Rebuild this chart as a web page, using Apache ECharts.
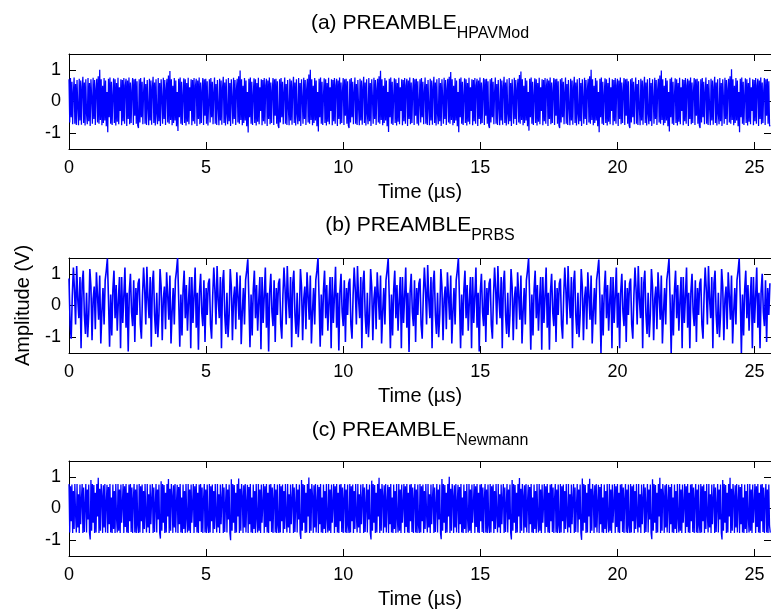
<!DOCTYPE html>
<html><head><meta charset="utf-8">
<script src="https://cdn.jsdelivr.net/npm/echarts@6/dist/echarts.min.js"></script>
<style>html,body{margin:0;padding:0;background:#fff}#c{width:771px;height:614px}</style>
</head><body><div id="c"></div>
<script>
// ---- data ----
const durationUs = 25.6;
const timeTicks = [0, 5, 10, 15, 20, 25];
const ampTicks = [-1, 0, 1];
const panelTitles = [['(a) PREAMBLE', 'HPAVMod'], ['(b) PREAMBLE', 'PRBS'], ['(c) PREAMBLE', 'Newmann']];
const xAxisLabel = 'Time (µs)';
const yAxisLabel = 'Amplitude (V)';

// (a) HPAVMod preamble amplitude samples (V), one line per 2.56 µs symbol
const ampA = [
.7,-.66,.74,-.5,.62,-.72,.3,.76,-.7,.55,-.74,.68,-.2,-.75,.72,-.6,.66,-.73,.45,.78,-.68,.6,-.76,.7,-.4,-.72,.74,-.62,.58,-.77,.7,.1,-.7,.75,-.55,.68,-.74,.4,.72,-.66,.8,-.7,1.0,-.58,.7,-.75,.5,-.68,.74,-.6,.66,-.78,.3,-.97,.72,-.5,.76,-.7,.62,-.74,.2,.73,-.68,.7,-.76,.58,-.64,.75,-.72,.45,-.3,.7,-.75,.68,-.62,.74,-.7,.5,.72,-.77,.66,-.55,.76,-.72,.6,-.68,.35,.74,-.74,.7,-.45,.72,-.7,.64,-.76,-.84,
.7,-.66,.74,-.5,.62,-.72,.3,.76,-.7,.55,-.74,.68,-.2,-.75,.72,-.6,.66,-.73,.45,.78,-.68,.6,-.76,.7,-.4,-.72,.74,-.62,.58,-.77,.7,.1,-.7,.75,-.55,.68,-.74,.4,.72,-.66,.82,-.7,.96,-.58,.7,-.75,.5,-.68,.74,-.6,.66,-.78,.3,-.93,.72,-.5,.76,-.7,.62,-.74,.2,.73,-.68,.7,-.76,.58,-.64,.75,-.72,.45,-.3,.7,-.75,.68,-.62,.74,-.7,.5,.72,-.77,.66,-.55,.76,-.72,.6,-.68,.35,.74,-.74,.7,-.45,.72,-.7,.64,-.76,-.82,
.7,-.66,.74,-.5,.62,-.72,.3,.76,-.7,.55,-.74,.68,-.2,-.75,.72,-.6,.66,-.73,.45,.78,-.68,.6,-.76,.7,-.4,-.72,.74,-.62,.58,-.77,.7,.1,-.7,.75,-.55,.68,-.74,.4,.72,-.66,.8,-.7,.98,-.58,.7,-.75,.5,-.68,.74,-.6,.66,-.78,.3,-.98,.72,-.5,.76,-.7,.62,-.74,.2,.73,-.68,.7,-.76,.58,-.64,.75,-.72,.45,-.3,.7,-.75,.68,-.62,.74,-.7,.5,.72,-.77,.66,-.55,.76,-.72,.6,-.68,.35,.74,-.74,.7,-.45,.72,-.7,.64,-.76,-.84,
.7,-.66,.74,-.5,.62,-.72,.3,.76,-.7,.55,-.74,.68,-.2,-.75,.72,-.6,.66,-.73,.45,.78,-.68,.6,-.76,.7,-.4,-.72,.74,-.62,.58,-.77,.7,.1,-.7,.75,-.55,.68,-.74,.4,.72,-.66,.85,-.7,1.0,-.58,.7,-.75,.5,-.68,.74,-.6,.66,-.78,.3,-.95,.72,-.5,.76,-.7,.62,-.74,.2,.73,-.68,.7,-.76,.58,-.64,.75,-.72,.45,-.3,.7,-.75,.68,-.62,.74,-.7,.5,.72,-.77,.66,-.55,.76,-.72,.6,-.68,.35,.74,-.74,.7,-.45,.72,-.7,.64,-.76,-.84,
.7,-.66,.74,-.5,.62,-.72,.3,.76,-.7,.55,-.74,.68,-.2,-.75,.72,-.6,.66,-.73,.45,.78,-.68,.6,-.76,.7,-.4,-.72,.74,-.62,.58,-.77,.7,.1,-.7,.75,-.55,.68,-.74,.4,.72,-.66,.8,-.7,.97,-.58,.7,-.75,.5,-.68,.74,-.6,.66,-.78,.3,-.96,.72,-.5,.76,-.7,.62,-.74,.2,.73,-.68,.7,-.76,.58,-.64,.75,-.72,.45,-.3,.7,-.75,.68,-.62,.74,-.7,.5,.72,-.77,.66,-.55,.76,-.72,.6,-.68,.35,.74,-.74,.7,-.45,.72,-.7,.64,-.76,-.82,
.7,-.66,.74,-.5,.62,-.72,.3,.76,-.7,.55,-.74,.68,-.2,-.75,.72,-.6,.66,-.73,.45,.78,-.68,.6,-.76,.7,-.4,-.72,.74,-.62,.58,-.77,.7,.1,-.7,.75,-.55,.68,-.74,.4,.72,-.66,.78,-.7,.93,-.58,.7,-.75,.5,-.68,.74,-.6,.66,-.78,.3,-.97,.72,-.5,.76,-.7,.62,-.74,.2,.73,-.68,.7,-.76,.58,-.64,.75,-.72,.45,-.3,.7,-.75,.68,-.62,.74,-.7,.5,.72,-.77,.66,-.55,.76,-.72,.6,-.68,.35,.74,-.74,.7,-.45,.72,-.7,.64,-.76,-.84,
.7,-.66,.74,-.5,.62,-.72,.3,.76,-.7,.55,-.74,.68,-.2,-.75,.72,-.6,.66,-.73,.45,.78,-.68,.6,-.76,.7,-.4,-.72,.74,-.62,.58,-.77,.7,.1,-.7,.75,-.55,.68,-.74,.4,.72,-.66,.84,-.7,.95,-.58,.7,-.75,.5,-.68,.74,-.6,.66,-.78,.3,-.92,.72,-.5,.76,-.7,.62,-.74,.2,.73,-.68,.7,-.76,.58,-.64,.75,-.72,.45,-.3,.7,-.75,.68,-.62,.74,-.7,.5,.72,-.77,.66,-.55,.76,-.72,.6,-.68,.35,.74,-.74,.7,-.45,.72,-.7,.64,-.76,-.84,
.7,-.66,.74,-.5,.62,-.72,.3,.76,-.7,.55,-.74,.68,-.2,-.75,.72,-.6,.66,-.73,.45,.78,-.68,.6,-.76,.7,-.4,-.72,.74,-.62,.58,-.77,.7,.1,-.7,.75,-.55,.68,-.74,.4,.72,-.66,.8,-.7,1.0,-.58,.7,-.75,.5,-.68,.74,-.6,.66,-.78,.3,-.97,.72,-.5,.76,-.7,.62,-.74,.2,.73,-.68,.7,-.76,.58,-.64,.75,-.72,.45,-.3,.7,-.75,.68,-.62,.74,-.7,.5,.72,-.77,.66,-.55,.76,-.72,.6,-.68,.35,.74,-.74,.7,-.45,.72,-.7,.64,-.76,-.84,
.7,-.66,.74,-.5,.62,-.72,.3,.76,-.7,.55,-.74,.68,-.2,-.75,.72,-.6,.66,-.73,.45,.78,-.68,.6,-.76,.7,-.4,-.72,.74,-.62,.58,-.77,.7,.1,-.7,.75,-.55,.68,-.74,.4,.72,-.66,.82,-.7,.98,-.58,.7,-.75,.5,-.68,.74,-.6,.66,-.78,.3,-.95,.72,-.5,.76,-.7,.62,-.74,.2,.73,-.68,.7,-.76,.58,-.64,.75,-.72,.45,-.3,.7,-.75,.68,-.62,.74,-.7,.5,.72,-.77,.66,-.55,.76,-.72,.6,-.68,.35,.74,-.74,.7,-.45,.72,-.7,.64,-.76,-.84,
.7,-.66,.74,-.5,.62,-.72,.3,.76,-.7,.55,-.74,.68,-.2,-.75,.72,-.6,.66,-.73,.45,.78,-.68,.6,-.76,.7,-.4,-.72,.74,-.62,.58,-.77,.7,.1,-.7,.75,-.55,.68,-.74,.4,.72,-.66,.8,-.7,1.02,-.58,.7,-.75,.5,-.68,.74,-.6,.66,-.78,.3,-.97,.72,-.5,.76,-.7,.62,-.74,.2,.73,-.68,.7,-.76,.58,-.64,.75,-.72,.45,-.3,.7,-.75,.68,-.62,.74,-.7,.5,.72,-.77,.66,-.55,.76,-.72,.6,-.68,.35,.74,-.74,.7,-.45,.72,-.7,.64,-.76,-.78
];

// (b) PRBS preamble amplitude samples (V), one line per 2.56 µs symbol
const ampB = [
.85,-.6,-1.05,.3,1.2,.5,-.6,1.25,.2,-.4,.9,-1.35,.7,1.1,-.3,-.9,.4,-1.0,-.3,1.15,.6,-1.1,.2,.6,-.75,1.05,.3,-.45,.95,-1.2,-.2,.55,-.6,.8,1.1,1.48,.2,-1.3,.35,-.95,.5,1.1,-.4,.65,-.8,.15,.9,-1.35,.9,-.55,.3,1.2,-.7,.4,-1.45,.45,1.0,-.2,-.65,.8,-1.15,.55,-.3,.7,
.85,-.6,-1.05,.3,1.2,.5,-.6,1.22,.2,-.4,.9,-1.3,.7,1.1,-.3,-.9,.4,-1.0,-.3,1.15,.6,-1.1,.2,.6,-.75,1.05,.3,-.45,.95,-1.2,-.2,.55,-.6,.8,1.1,1.5,.2,-1.3,.35,-.95,.5,1.1,-.4,.65,-.8,.15,.9,-1.35,.9,-.55,.3,1.2,-.7,.4,-1.4,.45,1.0,-.2,-.65,.8,-1.15,.55,-.3,.7,
.85,-.6,-1.05,.3,1.2,.5,-.6,1.25,.2,-.4,.9,-1.35,.7,1.12,-.3,-.9,.4,-1.0,-.3,1.15,.6,-1.1,.2,.6,-.75,1.05,.3,-.45,.95,-1.22,-.2,.55,-.6,.8,1.1,1.46,.2,-1.32,.35,-.95,.5,1.1,-.4,.65,-.8,.15,.9,-1.38,.9,-.55,.3,1.2,-.7,.4,-1.45,.45,1.0,-.2,-.65,.8,-1.15,.55,-.3,.7,
.85,-.6,-1.05,.3,1.2,.5,-.6,1.25,.2,-.4,.9,-1.32,.7,1.1,-.3,-.9,.4,-1.0,-.3,1.15,.6,-1.1,.2,.6,-.75,1.05,.3,-.45,.95,-1.2,-.2,.55,-.6,.8,1.1,1.5,.2,-1.3,.35,-.95,.5,1.1,-.4,.65,-.8,.15,.9,-1.35,.9,-.55,.3,1.22,-.7,.4,-1.42,.45,1.0,-.2,-.65,.8,-1.15,.55,-.3,.7,
.85,-.6,-1.05,.3,1.2,.5,-.6,1.25,.2,-.4,.9,-1.35,.7,1.1,-.3,-.9,.4,-1.0,-.3,1.15,.6,-1.1,.2,.6,-.75,1.05,.3,-.45,.95,-1.2,-.2,.55,-.6,.8,1.1,1.48,.2,-1.35,.35,-.95,.5,1.1,-.4,.65,-.8,.15,.9,-1.35,.9,-.55,.3,1.2,-.7,.4,-1.47,.45,1.0,-.2,-.65,.8,-1.15,.55,-.3,.7,
.85,-.6,-1.05,.3,1.2,.5,-.6,1.28,.2,-.4,.9,-1.35,.7,1.1,-.3,-.9,.4,-1.0,-.3,1.15,.6,-1.1,.2,.6,-.75,1.05,.3,-.45,.95,-1.2,-.2,.55,-.6,.8,1.1,1.5,.2,-1.35,.35,-.95,.5,1.1,-.4,.65,-.8,.15,.9,-1.35,.9,-.55,.3,1.2,-.7,.4,-1.45,.45,1.0,-.2,-.65,.8,-1.15,.55,-.3,.7,
.85,-.6,-1.05,.3,1.2,.5,-.6,1.25,.2,-.4,.9,-1.35,.7,1.1,-.3,-.9,.4,-1.0,-.3,1.15,.6,-1.1,.2,.6,-.75,1.05,.3,-.45,.95,-1.2,-.2,.55,-.6,.8,1.1,1.49,.2,-1.4,.35,-.95,.5,1.1,-.4,.65,-.8,.15,.9,-1.4,.9,-.55,.3,1.2,-.7,.4,-1.4,.45,1.0,-.2,-.65,.8,-1.15,.55,-.3,.7,
.85,-.6,-1.05,.3,1.2,.5,-.6,1.25,.2,-.4,.9,-1.35,.7,1.1,-.3,-.9,.4,-1.0,-.3,1.15,.6,-1.1,.2,.6,-.75,1.05,.3,-.45,.95,-1.2,-.2,.55,-.6,.8,1.1,1.45,.2,-1.5,.35,-.95,.5,1.1,-.4,.65,-.8,.15,.9,-1.35,.9,-.55,.3,1.2,-.7,.4,-1.35,.45,1.0,-.2,-.65,.8,-1.15,.55,-.3,.7,
.85,-.6,-1.05,.3,1.2,.5,-.6,1.25,.2,-.4,.9,-1.35,.7,1.1,-.3,-.9,.4,-1.0,-.3,1.15,.6,-1.1,.2,.6,-.75,1.05,.3,-.45,.95,-1.2,-.2,.55,-.6,.8,1.1,1.47,.2,-1.5,.35,-.95,.5,1.1,-.4,.65,-.8,.15,.9,-1.35,.9,-.55,.3,1.2,-.7,.4,-1.35,.45,1.0,-.2,-.65,.8,-1.15,.55,-.3,.7,
.85,-.6,-1.05,.3,1.2,.5,-.6,1.25,.2,-.4,.9,-1.35,.7,1.1,-.3,-.9,.4,-1.0,-.3,1.15,.6,-1.1,.2,.6,-.75,1.05,.3,-.45,.95,-1.2,-.2,.55,-.6,.8,1.1,1.48,.2,-1.5,.35,-.95,.5,1.1,-.4,.65,-.8,.15,.9,-1.35,.9,-.55,.3,1.2,-.7,.4,-1.35,.45,1.0,-.2,-.65,.8,-1.15,.55,-.3,.7
];

// (c) Newmann preamble amplitude samples (V), one line per 2.56 µs symbol
const ampC = [
.77,-.76,.7,-.4,.76,-.77,.55,-.65,.77,-.2,-.76,.77,-.6,.45,-.77,.76,-.5,.3,.77,-.77,.66,-.74,.1,.77,-.76,.6,-.35,.76,-.77,-.98,.9,-.7,.77,-.45,.74,-.77,.5,-.76,.77,-.25,.97,-.77,.62,-.7,.77,.4,-.77,.73,-.6,.77,-.76,.2,.75,-.77,.68,-.5,.77,-.76,.35,-.77,.76,-.65,.55,-.77,.77,-.3,-.76,.77,-.7,.6,-.77,.76,-.45,.15,.77,-.77,.7,-.58,.77,-.76,.5,-.77,.76,-.4,.77,-.74,.66,-.77,.3,.77,-.76,.6,-.77,.76,-.55,-.77,
.77,-.76,.7,-.4,.76,-.77,.55,-.65,.77,-.2,-.76,.77,-.6,.45,-.77,.76,-.5,.3,.77,-.77,.66,-.74,.1,.77,-.76,.6,-.35,.76,-.77,-.95,.86,-.7,.77,-.45,.74,-.77,.5,-.76,.77,-.25,.93,-.77,.62,-.7,.77,.4,-.77,.73,-.6,.77,-.76,.2,.75,-.77,.68,-.5,.77,-.76,.35,-.77,.76,-.65,.55,-.77,.77,-.3,-.76,.77,-.7,.6,-.77,.76,-.45,.15,.77,-.77,.7,-.58,.77,-.76,.5,-.77,.76,-.4,.77,-.74,.66,-.77,.3,.77,-.76,.6,-.77,.76,-.55,-.77,
.77,-.76,.7,-.4,.76,-.77,.55,-.65,.77,-.2,-.76,.77,-.6,.45,-.77,.76,-.5,.3,.77,-.77,.66,-.74,.1,.77,-.76,.6,-.35,.76,-.77,-1.0,.92,-.7,.77,-.45,.74,-.77,.5,-.76,.77,-.25,.95,-.77,.62,-.7,.77,.4,-.77,.73,-.6,.77,-.76,.2,.75,-.77,.68,-.5,.77,-.76,.35,-.77,.76,-.65,.55,-.77,.77,-.3,-.76,.77,-.7,.6,-.77,.76,-.45,.15,.77,-.77,.7,-.58,.77,-.76,.5,-.77,.76,-.4,.77,-.74,.66,-.77,.3,.77,-.76,.6,-.77,.76,-.55,-.77,
.77,-.76,.7,-.4,.76,-.77,.55,-.65,.77,-.2,-.76,.77,-.6,.45,-.77,.76,-.5,.3,.77,-.77,.66,-.74,.1,.77,-.76,.6,-.35,.76,-.77,-.96,.9,-.7,.77,-.45,.74,-.77,.5,-.76,.77,-.25,.98,-.77,.62,-.7,.77,.4,-.77,.73,-.6,.77,-.76,.2,.75,-.77,.68,-.5,.77,-.76,.35,-.77,.76,-.65,.55,-.77,.77,-.3,-.76,.77,-.7,.6,-.77,.76,-.45,.15,.77,-.77,.7,-.58,.77,-.76,.5,-.77,.76,-.4,.77,-.74,.66,-.77,.3,.77,-.76,.6,-.77,.76,-.55,-.77,
.77,-.76,.7,-.4,.76,-.77,.55,-.65,.77,-.2,-.76,.77,-.6,.45,-.77,.76,-.5,.3,.77,-.77,.66,-.74,.1,.77,-.76,.6,-.35,.76,-.77,-.98,.88,-.7,.77,-.45,.74,-.77,.5,-.76,.77,-.25,.97,-.77,.62,-.7,.77,.4,-.77,.73,-.6,.77,-.76,.2,.75,-.77,.68,-.5,.77,-.76,.35,-.77,.76,-.65,.55,-.77,.77,-.3,-.76,.77,-.7,.6,-.77,.76,-.45,.15,.77,-.77,.7,-.58,.77,-.76,.5,-.77,.76,-.4,.77,-.74,.66,-.77,.3,.77,-.76,.6,-.77,.76,-.55,-.77,
.77,-.76,.7,-.4,.76,-.77,.55,-.65,.77,-.2,-.76,.77,-.6,.45,-.77,.76,-.5,.3,.77,-.77,.66,-.74,.1,.77,-.76,.6,-.35,.76,-.77,-.97,.93,-.7,.77,-.45,.74,-.77,.5,-.76,.77,-.25,1.0,-.77,.62,-.7,.77,.4,-.77,.73,-.6,.77,-.76,.2,.75,-.77,.68,-.5,.77,-.76,.35,-.77,.76,-.65,.55,-.77,.77,-.3,-.76,.77,-.7,.6,-.77,.76,-.45,.15,.77,-.77,.7,-.58,.77,-.76,.5,-.77,.76,-.4,.77,-.74,.66,-.77,.3,.77,-.76,.6,-.77,.76,-.55,-.77,
.77,-.76,.7,-.4,.76,-.77,.55,-.65,.77,-.2,-.76,.77,-.6,.45,-.77,.76,-.5,.3,.77,-.77,.66,-.74,.1,.77,-.76,.6,-.35,.76,-.77,-.98,.9,-.7,.77,-.45,.74,-.77,.5,-.76,.77,-.25,.96,-.77,.62,-.7,.77,.4,-.77,.73,-.6,.77,-.76,.2,.75,-.77,.68,-.5,.77,-.76,.35,-.77,.76,-.65,.55,-.77,.77,-.3,-.76,.77,-.7,.6,-.77,.76,-.45,.15,.77,-.77,.7,-.58,.77,-.76,.5,-.77,.76,-.4,.77,-.74,.66,-.77,.3,.77,-.76,.6,-.77,.76,-.55,-.77,
.77,-.76,.7,-.4,.76,-.77,.55,-.65,.77,-.2,-.76,.77,-.6,.45,-.77,.76,-.5,.3,.77,-.77,.66,-.74,.1,.77,-.76,.6,-.35,.76,-.77,-.99,.95,-.7,.77,-.45,.74,-.77,.5,-.76,.77,-.25,.94,-.77,.62,-.7,.77,.4,-.77,.73,-.6,.77,-.76,.2,.75,-.77,.68,-.5,.77,-.76,.35,-.77,.76,-.65,.55,-.77,.77,-.3,-.76,.77,-.7,.6,-.77,.76,-.45,.15,.77,-.77,.7,-.58,.77,-.76,.5,-.77,.76,-.4,.77,-.74,.66,-.77,.3,.77,-.76,.6,-.77,.76,-.55,-.77,
.77,-.76,.7,-.4,.76,-.77,.55,-.65,.77,-.2,-.76,.77,-.6,.45,-.77,.76,-.5,.3,.77,-.77,.66,-.74,.1,.77,-.76,.6,-.35,.76,-.77,-.97,.92,-.7,.77,-.45,.74,-.77,.5,-.76,.77,-.25,.97,-.77,.62,-.7,.77,.4,-.77,.73,-.6,.77,-.76,.2,.75,-.77,.68,-.5,.77,-.76,.35,-.77,.76,-.65,.55,-.77,.77,-.3,-.76,.77,-.7,.6,-.77,.76,-.45,.15,.77,-.77,.7,-.58,.77,-.76,.5,-.77,.76,-.4,.77,-.74,.66,-.77,.3,.77,-.76,.6,-.77,.76,-.55,-.77,
.77,-.76,.7,-.4,.76,-.77,.55,-.65,.77,-.2,-.76,.77,-.6,.45,-.77,.76,-.5,.3,.77,-.77,.66,-.74,.1,.77,-.76,.6,-.35,.76,-.77,-.98,.9,-.7,.77,-.45,.74,-.77,.5,-.76,.77,-.25,.97,-.77,.62,-.7,.77,.4,-.77,.73,-.6,.77,-.76,.2,.75,-.77,.68,-.5,.77,-.76,.35,-.77,.76,-.65,.55,-.77,.77,-.3,-.76,.77,-.7,.6,-.77,.76,-.45,.15,.77,-.77,.7,-.58,.77,-.76,.5,-.77,.76,-.4,.77,-.74,.66,-.77,.3,.77,-.76,.6,-.77,.76,-.55,-.76
];

// ---- chart construction ----
const FONT = '"Liberation Sans", Arial, Helvetica, sans-serif';
const seriesData = [ampA, ampB, ampC];
const lineWidths = [1.25, 1.6, 1.3];
const gridTops = [54, 258, 461];
const titleTops = [8, 210, 415];
const toXY = arr => arr.map((v, i) => [i * durationUs / arr.length, v]);

const grid = [], xAxis = [], yAxis = [], series = [], title = [];
const axisLineStyle = { color: '#000', width: 1 };
gridTops.forEach((top, i) => {
  grid.push({ left: 69, top: top, width: 703, height: 95, containLabel: false });
  xAxis.push({
    gridIndex: i, type: 'value', min: 0, max: durationUs, position: 'bottom',
    axisLine: { show: true, onZero: false, lineStyle: axisLineStyle },
    axisTick: { show: true, inside: true, length: 7, customValues: timeTicks, lineStyle: axisLineStyle },
    axisLabel: { show: true, customValues: timeTicks, fontSize: 18, margin: 10, color: '#000', fontFamily: FONT },
    splitLine: { show: false },
    name: xAxisLabel, nameLocation: 'middle', nameGap: 33,
    nameTextStyle: { fontSize: 20, color: '#000', fontFamily: FONT }
  });
  xAxis.push({
    gridIndex: i, type: 'value', min: 0, max: durationUs, position: 'top',
    axisLine: { show: true, onZero: false, lineStyle: axisLineStyle },
    axisTick: { show: true, inside: true, length: 7, customValues: timeTicks, lineStyle: axisLineStyle },
    axisLabel: { show: false }, splitLine: { show: false }
  });
  const leftY = {
    gridIndex: i, type: 'value', min: -1.5, max: 1.5, position: 'left',
    axisLine: { show: true, onZero: false, lineStyle: axisLineStyle },
    axisTick: { show: true, inside: true, length: 7, customValues: ampTicks, lineStyle: axisLineStyle },
    axisLabel: { show: true, customValues: ampTicks, fontSize: 18, margin: 8, color: '#000', fontFamily: FONT },
    splitLine: { show: false }
  };
  if (i === 1) {
    leftY.name = yAxisLabel; leftY.nameLocation = 'middle'; leftY.nameGap = 36;
    leftY.nameTextStyle = { fontSize: 20, color: '#000', fontFamily: FONT };
  }
  yAxis.push(leftY);
  yAxis.push({
    gridIndex: i, type: 'value', min: -1.5, max: 1.5, position: 'right',
    axisLine: { show: true, onZero: false, lineStyle: axisLineStyle },
    axisTick: { show: true, inside: true, length: 7, customValues: ampTicks, lineStyle: axisLineStyle },
    axisLabel: { show: false }, splitLine: { show: false }
  });
  series.push({
    type: 'line', xAxisIndex: 2 * i, yAxisIndex: 2 * i, data: toXY(seriesData[i]),
    showSymbol: false, symbol: 'none', sampling: null, clip: true,
    lineStyle: { color: '#0000ff', width: lineWidths[i] }, emphasis: { disabled: true }, silent: true
  });
  title.push({
    left: 415, top: titleTops[i], textAlign: 'center',
    text: '{m|' + panelTitles[i][0] + '}{s|' + panelTitles[i][1] + '}',
    textStyle: {
      fontWeight: 'normal',
      rich: {
        m: { fontSize: 21, lineHeight: 21, color: '#000', fontWeight: 'normal', fontFamily: FONT, verticalAlign: 'top' },
        s: { fontSize: 16, lineHeight: 16, color: '#000', fontWeight: 'normal', fontFamily: FONT, verticalAlign: 'top', padding: [13, 0, 0, 0] }
      }
    }
  });
});

const chart = echarts.init(document.getElementById('c'), null, { renderer: 'canvas' });
chart.setOption({ animation: false, backgroundColor: '#fff', title, grid, xAxis, yAxis, series });
</script>
</body></html>
